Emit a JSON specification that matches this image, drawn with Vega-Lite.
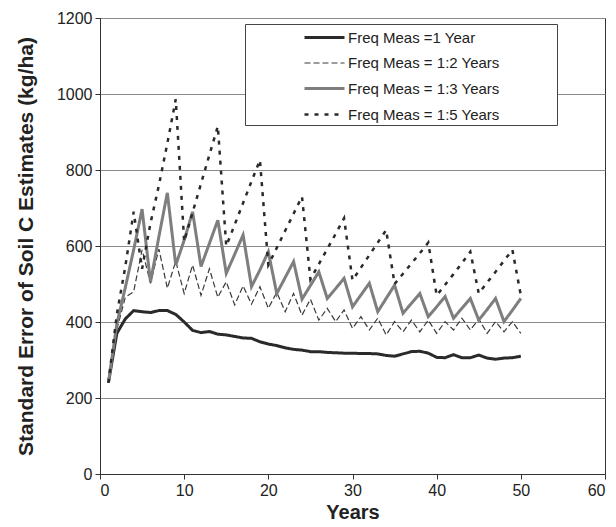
{
"$schema": "https://vega.github.io/schema/vega-lite/v6.json",
"width": 505, "height": 456,
"autosize": {"type": "none"},
"padding": {"left": 100, "top": 18, "right": 11, "bottom": 53},
"background": "white",
"config": {
  "font": "Liberation Sans",
  "view": {"stroke": "#333", "strokeWidth": 1},
  "axis": {"labelFont": "Liberation Sans", "labelFontSize": 16, "labelColor": "#222", "domainColor": "#333", "tickColor": "#333", "tickSize": 5, "gridColor": "#8a8a8a", "gridWidth": 1, "titleFont": "Liberation Sans", "titleFontWeight": "bold", "titleColor": "#222"},
  "legend": {"orient": "none", "legendX": 145, "legendY": 6, "padding": 2, "rowPadding": 6, "strokeColor": "#444", "fillColor": "white", "symbolType": "M-2,0H2", "symbolSize": 400, "symbolOffset": 66, "labelOffset": 12, "labelFont": "Liberation Sans", "labelFontSize": 15, "labelColor": "#222", "labelLimit": 500}
},
"data": {"values": [
{"year":1,"series":"Freq Meas =1 Year","se":240},{"year":2,"series":"Freq Meas =1 Year","se":370},{"year":3,"series":"Freq Meas =1 Year","se":408},{"year":4,"series":"Freq Meas =1 Year","se":430},{"year":5,"series":"Freq Meas =1 Year","se":427},{"year":6,"series":"Freq Meas =1 Year","se":425},{"year":7,"series":"Freq Meas =1 Year","se":430},{"year":8,"series":"Freq Meas =1 Year","se":430},{"year":9,"series":"Freq Meas =1 Year","se":420},{"year":10,"series":"Freq Meas =1 Year","se":400},
{"year":11,"series":"Freq Meas =1 Year","se":378},{"year":12,"series":"Freq Meas =1 Year","se":372},{"year":13,"series":"Freq Meas =1 Year","se":375},{"year":14,"series":"Freq Meas =1 Year","se":368},{"year":15,"series":"Freq Meas =1 Year","se":366},{"year":16,"series":"Freq Meas =1 Year","se":362},{"year":17,"series":"Freq Meas =1 Year","se":358},{"year":18,"series":"Freq Meas =1 Year","se":357},{"year":19,"series":"Freq Meas =1 Year","se":348},{"year":20,"series":"Freq Meas =1 Year","se":342},
{"year":21,"series":"Freq Meas =1 Year","se":338},{"year":22,"series":"Freq Meas =1 Year","se":332},{"year":23,"series":"Freq Meas =1 Year","se":328},{"year":24,"series":"Freq Meas =1 Year","se":326},{"year":25,"series":"Freq Meas =1 Year","se":322},{"year":26,"series":"Freq Meas =1 Year","se":322},{"year":27,"series":"Freq Meas =1 Year","se":320},{"year":28,"series":"Freq Meas =1 Year","se":319},{"year":29,"series":"Freq Meas =1 Year","se":318},{"year":30,"series":"Freq Meas =1 Year","se":318},
{"year":31,"series":"Freq Meas =1 Year","se":317},{"year":32,"series":"Freq Meas =1 Year","se":317},{"year":33,"series":"Freq Meas =1 Year","se":316},{"year":34,"series":"Freq Meas =1 Year","se":312},{"year":35,"series":"Freq Meas =1 Year","se":310},{"year":36,"series":"Freq Meas =1 Year","se":316},{"year":37,"series":"Freq Meas =1 Year","se":322},{"year":38,"series":"Freq Meas =1 Year","se":323},{"year":39,"series":"Freq Meas =1 Year","se":318},{"year":40,"series":"Freq Meas =1 Year","se":307},
{"year":41,"series":"Freq Meas =1 Year","se":306},{"year":42,"series":"Freq Meas =1 Year","se":314},{"year":43,"series":"Freq Meas =1 Year","se":306},{"year":44,"series":"Freq Meas =1 Year","se":306},{"year":45,"series":"Freq Meas =1 Year","se":313},{"year":46,"series":"Freq Meas =1 Year","se":305},{"year":47,"series":"Freq Meas =1 Year","se":302},{"year":48,"series":"Freq Meas =1 Year","se":305},{"year":49,"series":"Freq Meas =1 Year","se":306},{"year":50,"series":"Freq Meas =1 Year","se":310},
{"year":1,"series":"Freq Meas = 1:2 Years","se":240},{"year":2,"series":"Freq Meas = 1:2 Years","se":380},{"year":3,"series":"Freq Meas = 1:2 Years","se":465},{"year":4,"series":"Freq Meas = 1:2 Years","se":480},{"year":5,"series":"Freq Meas = 1:2 Years","se":590},{"year":6,"series":"Freq Meas = 1:2 Years","se":502},{"year":7,"series":"Freq Meas = 1:2 Years","se":592},{"year":8,"series":"Freq Meas = 1:2 Years","se":489},{"year":9,"series":"Freq Meas = 1:2 Years","se":560},{"year":10,"series":"Freq Meas = 1:2 Years","se":475},
{"year":11,"series":"Freq Meas = 1:2 Years","se":550},{"year":12,"series":"Freq Meas = 1:2 Years","se":470},{"year":13,"series":"Freq Meas = 1:2 Years","se":540},{"year":14,"series":"Freq Meas = 1:2 Years","se":465},{"year":15,"series":"Freq Meas = 1:2 Years","se":506},{"year":16,"series":"Freq Meas = 1:2 Years","se":445},{"year":17,"series":"Freq Meas = 1:2 Years","se":495},{"year":18,"series":"Freq Meas = 1:2 Years","se":447},{"year":19,"series":"Freq Meas = 1:2 Years","se":493},{"year":20,"series":"Freq Meas = 1:2 Years","se":436},
{"year":21,"series":"Freq Meas = 1:2 Years","se":478},{"year":22,"series":"Freq Meas = 1:2 Years","se":427},{"year":23,"series":"Freq Meas = 1:2 Years","se":475},{"year":24,"series":"Freq Meas = 1:2 Years","se":418},{"year":25,"series":"Freq Meas = 1:2 Years","se":460},{"year":26,"series":"Freq Meas = 1:2 Years","se":405},{"year":27,"series":"Freq Meas = 1:2 Years","se":436},{"year":28,"series":"Freq Meas = 1:2 Years","se":401},{"year":29,"series":"Freq Meas = 1:2 Years","se":432},{"year":30,"series":"Freq Meas = 1:2 Years","se":383},
{"year":31,"series":"Freq Meas = 1:2 Years","se":414},{"year":32,"series":"Freq Meas = 1:2 Years","se":379},{"year":33,"series":"Freq Meas = 1:2 Years","se":410},{"year":34,"series":"Freq Meas = 1:2 Years","se":366},{"year":35,"series":"Freq Meas = 1:2 Years","se":401},{"year":36,"series":"Freq Meas = 1:2 Years","se":374},{"year":37,"series":"Freq Meas = 1:2 Years","se":405},{"year":38,"series":"Freq Meas = 1:2 Years","se":374},{"year":39,"series":"Freq Meas = 1:2 Years","se":405},{"year":40,"series":"Freq Meas = 1:2 Years","se":370},
{"year":41,"series":"Freq Meas = 1:2 Years","se":401},{"year":42,"series":"Freq Meas = 1:2 Years","se":379},{"year":43,"series":"Freq Meas = 1:2 Years","se":410},{"year":44,"series":"Freq Meas = 1:2 Years","se":379},{"year":45,"series":"Freq Meas = 1:2 Years","se":408},{"year":46,"series":"Freq Meas = 1:2 Years","se":370},{"year":47,"series":"Freq Meas = 1:2 Years","se":401},{"year":48,"series":"Freq Meas = 1:2 Years","se":374},{"year":49,"series":"Freq Meas = 1:2 Years","se":401},{"year":50,"series":"Freq Meas = 1:2 Years","se":370},
{"year":1,"series":"Freq Meas = 1:3 Years","se":240},{"year":2,"series":"Freq Meas = 1:3 Years","se":395},{"year":3,"series":"Freq Meas = 1:3 Years","se":490},{"year":4,"series":"Freq Meas = 1:3 Years","se":590},{"year":5,"series":"Freq Meas = 1:3 Years","se":697},{"year":6,"series":"Freq Meas = 1:3 Years","se":505},{"year":7,"series":"Freq Meas = 1:3 Years","se":625},{"year":8,"series":"Freq Meas = 1:3 Years","se":740},{"year":9,"series":"Freq Meas = 1:3 Years","se":550},{"year":10,"series":"Freq Meas = 1:3 Years","se":615},
{"year":11,"series":"Freq Meas = 1:3 Years","se":690},{"year":12,"series":"Freq Meas = 1:3 Years","se":546},{"year":13,"series":"Freq Meas = 1:3 Years","se":607},{"year":14,"series":"Freq Meas = 1:3 Years","se":668},{"year":15,"series":"Freq Meas = 1:3 Years","se":528},{"year":16,"series":"Freq Meas = 1:3 Years","se":578},{"year":17,"series":"Freq Meas = 1:3 Years","se":629},{"year":18,"series":"Freq Meas = 1:3 Years","se":493},{"year":19,"series":"Freq Meas = 1:3 Years","se":537},{"year":20,"series":"Freq Meas = 1:3 Years","se":585},
{"year":21,"series":"Freq Meas = 1:3 Years","se":475},{"year":22,"series":"Freq Meas = 1:3 Years","se":517},{"year":23,"series":"Freq Meas = 1:3 Years","se":559},{"year":24,"series":"Freq Meas = 1:3 Years","se":460},{"year":25,"series":"Freq Meas = 1:3 Years","se":496},{"year":26,"series":"Freq Meas = 1:3 Years","se":532},{"year":27,"series":"Freq Meas = 1:3 Years","se":462},{"year":28,"series":"Freq Meas = 1:3 Years","se":488},{"year":29,"series":"Freq Meas = 1:3 Years","se":515},{"year":30,"series":"Freq Meas = 1:3 Years","se":440},
{"year":31,"series":"Freq Meas = 1:3 Years","se":471},{"year":32,"series":"Freq Meas = 1:3 Years","se":502},{"year":33,"series":"Freq Meas = 1:3 Years","se":427},{"year":34,"series":"Freq Meas = 1:3 Years","se":462},{"year":35,"series":"Freq Meas = 1:3 Years","se":497},{"year":36,"series":"Freq Meas = 1:3 Years","se":423},{"year":37,"series":"Freq Meas = 1:3 Years","se":449},{"year":38,"series":"Freq Meas = 1:3 Years","se":475},{"year":39,"series":"Freq Meas = 1:3 Years","se":414},{"year":40,"series":"Freq Meas = 1:3 Years","se":440},
{"year":41,"series":"Freq Meas = 1:3 Years","se":467},{"year":42,"series":"Freq Meas = 1:3 Years","se":410},{"year":43,"series":"Freq Meas = 1:3 Years","se":436},{"year":44,"series":"Freq Meas = 1:3 Years","se":462},{"year":45,"series":"Freq Meas = 1:3 Years","se":405},{"year":46,"series":"Freq Meas = 1:3 Years","se":433},{"year":47,"series":"Freq Meas = 1:3 Years","se":462},{"year":48,"series":"Freq Meas = 1:3 Years","se":401},{"year":49,"series":"Freq Meas = 1:3 Years","se":431},{"year":50,"series":"Freq Meas = 1:3 Years","se":462},
{"year":1,"series":"Freq Meas = 1:5 Years","se":240},{"year":2,"series":"Freq Meas = 1:5 Years","se":420},{"year":3,"series":"Freq Meas = 1:5 Years","se":545},{"year":4,"series":"Freq Meas = 1:5 Years","se":690},{"year":5,"series":"Freq Meas = 1:5 Years","se":540},{"year":6,"series":"Freq Meas = 1:5 Years","se":660},{"year":7,"series":"Freq Meas = 1:5 Years","se":760},{"year":8,"series":"Freq Meas = 1:5 Years","se":870},{"year":9,"series":"Freq Meas = 1:5 Years","se":986},{"year":10,"series":"Freq Meas = 1:5 Years","se":612},
{"year":11,"series":"Freq Meas = 1:5 Years","se":688},{"year":12,"series":"Freq Meas = 1:5 Years","se":764},{"year":13,"series":"Freq Meas = 1:5 Years","se":840},{"year":14,"series":"Freq Meas = 1:5 Years","se":915},{"year":15,"series":"Freq Meas = 1:5 Years","se":600},{"year":16,"series":"Freq Meas = 1:5 Years","se":656},{"year":17,"series":"Freq Meas = 1:5 Years","se":713},{"year":18,"series":"Freq Meas = 1:5 Years","se":770},{"year":19,"series":"Freq Meas = 1:5 Years","se":826},{"year":20,"series":"Freq Meas = 1:5 Years","se":550},
{"year":21,"series":"Freq Meas = 1:5 Years","se":595},{"year":22,"series":"Freq Meas = 1:5 Years","se":640},{"year":23,"series":"Freq Meas = 1:5 Years","se":685},{"year":24,"series":"Freq Meas = 1:5 Years","se":730},{"year":25,"series":"Freq Meas = 1:5 Years","se":512},{"year":26,"series":"Freq Meas = 1:5 Years","se":552},{"year":27,"series":"Freq Meas = 1:5 Years","se":592},{"year":28,"series":"Freq Meas = 1:5 Years","se":632},{"year":29,"series":"Freq Meas = 1:5 Years","se":673},{"year":30,"series":"Freq Meas = 1:5 Years","se":510},
{"year":31,"series":"Freq Meas = 1:5 Years","se":543},{"year":32,"series":"Freq Meas = 1:5 Years","se":576},{"year":33,"series":"Freq Meas = 1:5 Years","se":609},{"year":34,"series":"Freq Meas = 1:5 Years","se":642},{"year":35,"series":"Freq Meas = 1:5 Years","se":500},{"year":36,"series":"Freq Meas = 1:5 Years","se":527},{"year":37,"series":"Freq Meas = 1:5 Years","se":554},{"year":38,"series":"Freq Meas = 1:5 Years","se":581},{"year":39,"series":"Freq Meas = 1:5 Years","se":609},{"year":40,"series":"Freq Meas = 1:5 Years","se":470},
{"year":41,"series":"Freq Meas = 1:5 Years","se":498},{"year":42,"series":"Freq Meas = 1:5 Years","se":526},{"year":43,"series":"Freq Meas = 1:5 Years","se":555},{"year":44,"series":"Freq Meas = 1:5 Years","se":585},{"year":45,"series":"Freq Meas = 1:5 Years","se":475},{"year":46,"series":"Freq Meas = 1:5 Years","se":504},{"year":47,"series":"Freq Meas = 1:5 Years","se":532},{"year":48,"series":"Freq Meas = 1:5 Years","se":561},{"year":49,"series":"Freq Meas = 1:5 Years","se":590},{"year":50,"series":"Freq Meas = 1:5 Years","se":470}
]},
"mark": {"type": "line", "interpolate": "linear"},
"encoding": {
  "x": {"field": "year", "type": "quantitative", "scale": {"domain": [0, 60], "nice": false},
        "axis": {"values": [0,10,20,30,40,50,60], "format": "d", "title": "Years", "grid": false, "labelPadding": 3, "titlePadding": 4, "titleFontSize": 20}},
  "y": {"field": "se", "type": "quantitative", "scale": {"domain": [0, 1200], "nice": false},
        "axis": {"values": [0,200,400,600,800,1000,1200], "format": "d", "title": "Standard Error of Soil C Estimates (kg/ha)", "grid": true, "labelPadding": 3, "titlePadding": 20, "titleFontSize": 21}},
  "color": {"field": "series", "type": "nominal", "title": null,
            "legend": {"labelExpr": "datum.label + '\u2800\u2800\u2800\u2800\u2800'"},
            "scale": {"domain": ["Freq Meas =1 Year","Freq Meas = 1:2 Years","Freq Meas = 1:3 Years","Freq Meas = 1:5 Years"], "range": ["#2a2a2a","#3a3a3a","#7e7e7e","#2a2a2a"]}},
  "strokeDash": {"field": "series", "type": "nominal", "title": null,
            "legend": {"labelExpr": "datum.label + '\u2800\u2800\u2800\u2800\u2800'"},
            "scale": {"domain": ["Freq Meas =1 Year","Freq Meas = 1:2 Years","Freq Meas = 1:3 Years","Freq Meas = 1:5 Years"], "range": [[1,0],[6,3],[1,0],[4,6]]}},
  "strokeWidth": {"field": "series", "type": "nominal", "title": null,
            "legend": {"labelExpr": "datum.label + '\u2800\u2800\u2800\u2800\u2800'"},
            "scale": {"type": "ordinal", "domain": ["Freq Meas =1 Year","Freq Meas = 1:2 Years","Freq Meas = 1:3 Years","Freq Meas = 1:5 Years"], "range": [3, 1.2, 3, 2.5]}}
}
}
